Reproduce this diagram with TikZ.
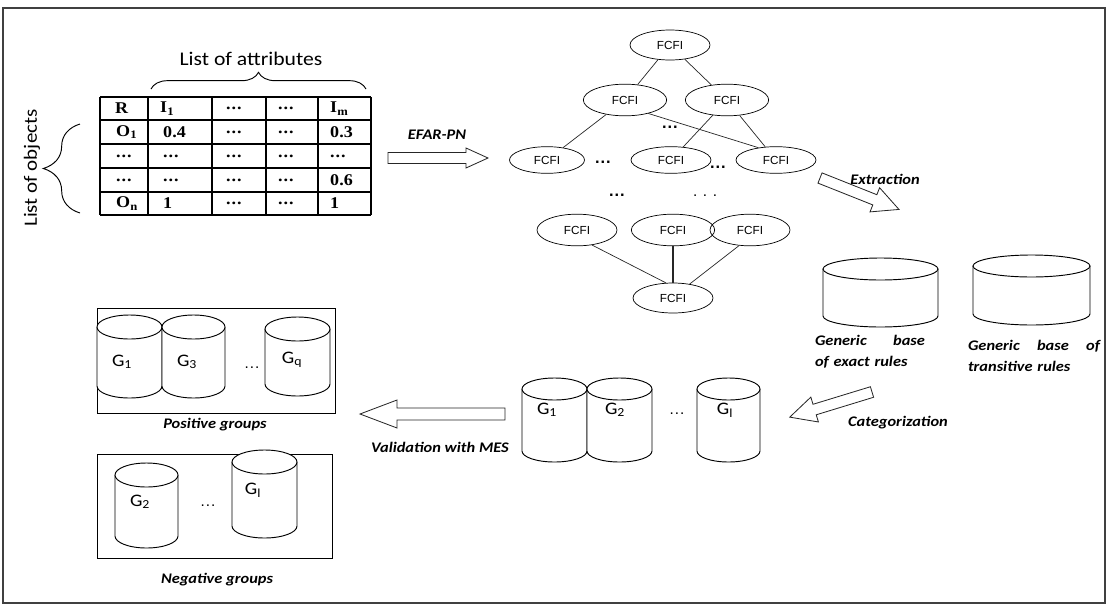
\documentclass[tikz,border=0pt]{standalone}
\usepackage{fontspec}
\setmainfont{Liberation Serif}[FakeStretch=1.1]
\newfontfamily\carl{Carlito}[FakeStretch=1.12]
\newfontfamily\arialf{Liberation Sans}
\usetikzlibrary{shapes.geometric,decorations.pathreplacing}
\newcommand\cyl[6]{%
  \filldraw[cylline] ({#2-#5},#3) -- ({#2-#5},#4) arc[start angle=180,end angle=0,x radius=#5,y radius=#6] -- ({#2+#5},#3);
  \draw[cylline] (#2,#3) ellipse[x radius=#5,y radius=#6];
  \coordinate (#1) at (#2,{(#3+#4)/2});}
\newcommand\barrow[8]{%
  \coordinate (#1) at (#2,#3);
  \begin{scope}[shift={(#1)},rotate=#4]
    \draw[blockarrow] (0,-#6) -- ({#5-#8},-#6) -- ({#5-#8},-#7) -- (#5,0) -- ({#5-#8},#7) -- ({#5-#8},#6) -- (0,#6) -- cycle;
  \end{scope}}
\newcommand\dd{.\kern0.8pt.\kern0.8pt.}
\begin{document}
\begin{tikzpicture}[x=0.03cm,y=-0.03cm,
  fcfi/.style={ellipse,draw,line width=0.6pt,minimum width=2.4cm,minimum height=0.9cm,inner sep=0pt,font=\arialf\fontsize{10}{11}\selectfont},
  lab/.style={font=\carl\bfseries\itshape\fontsize{12.5}{18}\selectfont,inner sep=0pt},
  cell/.style={anchor=west,inner sep=0pt,font=\bfseries\fontsize{14}{16}\selectfont},
  glab/.style={font=\carl\fontsize{15}{17}\selectfont,inner sep=0pt},
  dotsb/.style={font=\arialf\bfseries\fontsize{14}{14}\selectfont,inner sep=0pt},
  dotsr/.style={font=\arialf\fontsize{13}{14}\selectfont,inner sep=0pt},
  edge/.style={line width=0.6pt,draw=black!85},
  cylline/.style={line width=0.8pt,draw=black,fill=white},
  blockarrow/.style={line width=0.7pt,draw=black!85,fill=white},
  grp/.style={draw,line width=0.8pt,inner sep=0pt},
  tline/.style={line width=1pt}]
\useasboundingbox (0,0) rectangle (1107,606);
\draw[line width=1.2pt,black!75] (3,8) rectangle (1105,603);

% ---- table ----
\foreach \x in {100,148,212,266,318,371} \draw[tline] (\x,97) -- (\x,215);
\foreach \y in {97,120,144,168,192,215} \draw[tline] (100,\y) -- (371,\y);
\node[cell] (c11) at (115,108.5) {R};
\node[cell] (c12) at (160,108.5) {I\textsubscript{1}};
\node[cell] (c13) at (226,108.5) {\dd};
\node[cell] (c14) at (278,108.5) {\dd};
\node[cell] (c15) at (330,108.5) {I\textsubscript{m}};
\node[cell] (c21) at (116,132) {O\textsubscript{1}};
\node[cell] (c22) at (163,132) {0.4};
\node[cell] (c23) at (226,132) {\dd};
\node[cell] (c24) at (278,132) {\dd};
\node[cell] (c25) at (330,132) {0.3};
\node[cell] (c31) at (116,156) {\dd};
\node[cell] (c32) at (163,156) {\dd};
\node[cell] (c33) at (226,156) {\dd};
\node[cell] (c34) at (278,156) {\dd};
\node[cell] (c35) at (330,156) {\dd};
\node[cell] (c41) at (116,180) {\dd};
\node[cell] (c42) at (163,180) {\dd};
\node[cell] (c43) at (226,180) {\dd};
\node[cell] (c44) at (278,180) {\dd};
\node[cell] (c45) at (330,180) {0.6};
\node[cell] (c51) at (116,203.5) {O\textsubscript{n}};
\node[cell] (c52) at (163,203.5) {1};
\node[cell] (c53) at (226,203.5) {\dd};
\node[cell] (c54) at (278,203.5) {\dd};
\node[cell] (c55) at (330,203.5) {1};

% braces
\draw[line width=0.8pt,decorate,decoration={brace,amplitude=0.5cm}] (151,89) -- (366,89);
\node[font=\carl\fontsize{16.5}{18}\selectfont] (lattr) at (251,59) {List of attributes};
\draw[line width=0.8pt,decorate,decoration={brace,amplitude=1.1cm}] (80,213) -- (80,124);
\node[rotate=90,font=\carl\fontsize{16}{18}\selectfont] (lobj) at (32,168) {List of objects};

% EFAR-PN
\barrow{aefar}{388}{158}{0}{100}{5.5}{10}{22}
\node[lab] (lefar) at (437,135) {EFAR-PN};

% ---- lattice ----
\node[fcfi] (n1) at (670,45) {FCFI};
\node[fcfi,minimum width=2.5cm,minimum height=0.95cm] (n2a) at (625,100) {FCFI};
\node[fcfi,minimum width=2.5cm,minimum height=0.95cm] (n2b) at (727,100) {FCFI};
\node[fcfi,minimum width=2.25cm,minimum height=0.8cm] (n3a) at (547,160) {FCFI};
\node[fcfi,minimum height=0.8cm] (n3b) at (671,160) {FCFI};
\node[fcfi,minimum height=0.8cm] (n3c) at (776,160) {FCFI};
\node[fcfi,minimum height=0.95cm] (n4a) at (577,230) {FCFI};
\node[fcfi,minimum width=2.5cm,minimum height=0.95cm] (n4b) at (673,230) {FCFI};
\node[fcfi,minimum height=0.95cm] (n4c) at (750,230) {FCFI};
\node[fcfi] (n5) at (673,298) {FCFI};
\draw[edge] (n1) -- (n2a);
\draw[edge] (n1) -- (n2b);
\draw[edge] (n2a) -- (n3a);
\draw[edge] (n2a.-30) -- (n3c.145);
\draw[edge] (n2b) -- (n3b);
\draw[edge] (n2b) -- (n3c);
\draw[edge] (n4a.-45) -- (n5.115);
\draw[edge,line width=0.9pt] (n4b) -- (n5);
\draw[edge] (n4c.-125) -- (n5.40);
\node[dotsb] (d1) at (603,162) {\dd};
\node[dotsb] (d2) at (670,127) {\dd};
\node[dotsb] (d3) at (718,167) {\dd};
\node[dotsb] (d4) at (617,195) {\dd};
\node[dotsr] (d5) at (705,196) {. . .};

% Extraction
\barrow{aext}{820}{178}{-21.7}{85}{5.5}{13}{26}
\node[lab] (lext) at (885,179) {Extraction};

% generic bases
\cyl{gb1}{880.5}{269}{316}{57.5}{11}
\cyl{gb2}{1031.5}{266}{314}{58.5}{11}
\node[lab,text width=3.3cm,align=left] (lgb1) at (870,352) {Generic\hfill base\\of exact rules};
\node[lab,text width=3.96cm,align=left] (lgb2) at (1034,356) {Generic\hfill base\hfill of\\transitive rules};

% Categorization
\barrow{acat}{872}{392}{197}{86}{5.5}{13}{26}
\node[lab] (lcat) at (898,423) {Categorization};

% middle groups
\cyl{m1}{554.5}{389}{451}{32.5}{11}
\cyl{m2}{619.5}{389}{451}{32.5}{11}
\cyl{m3}{728.5}{389}{451}{31.5}{11}
\node[glab] (gm1) at (547,410) {G\textsubscript{1}};
\node[glab] (gm2) at (615,410) {G\textsubscript{2}};
\node[dotsr] (gmd) at (677,414) {\dd};
\node[glab] (gm3) at (725,410) {G\textsubscript{l}};

% Validation
\barrow{aval}{505}{414}{180}{145}{6}{14}{37}
\node[lab] (lval) at (440,447) {Validation with MES};

% positive groups
\node[grp,minimum width=7.14cm,minimum height=3.15cm] (pbox) at (216,360.5) {};
\cyl{p1}{129.5}{327}{386}{32.5}{12}
\cyl{p2}{193.5}{327}{386}{31.5}{12}
\cyl{p3}{297.5}{329}{384}{32.5}{12}
\node[glab] (gp1) at (122,362) {G\textsubscript{1}};
\node[glab] (gp2) at (187,362) {G\textsubscript{3}};
\node[dotsr] (gpd) at (252,368) {\dd};
\node[glab] (gp3) at (292,360) {G\textsubscript{q}};
\node[lab] (lpos) at (215,425) {Positive groups};

% negative groups
\node[grp,minimum width=7.05cm,minimum height=3.12cm] (nbox) at (214.5,506) {};
\cyl{q1}{146.5}{475}{536}{31.5}{12}
\cyl{q2}{264.5}{462}{526}{32.5}{12}
\node[glab] (gn1) at (140,502) {G\textsubscript{2}};
\node[dotsr] (gnd) at (208,506) {\dd};
\node[glab] (gn2) at (253,490) {G\textsubscript{l}};
\node[lab] (lneg) at (217,580) {Negative groups};
\end{tikzpicture}
\end{document}
